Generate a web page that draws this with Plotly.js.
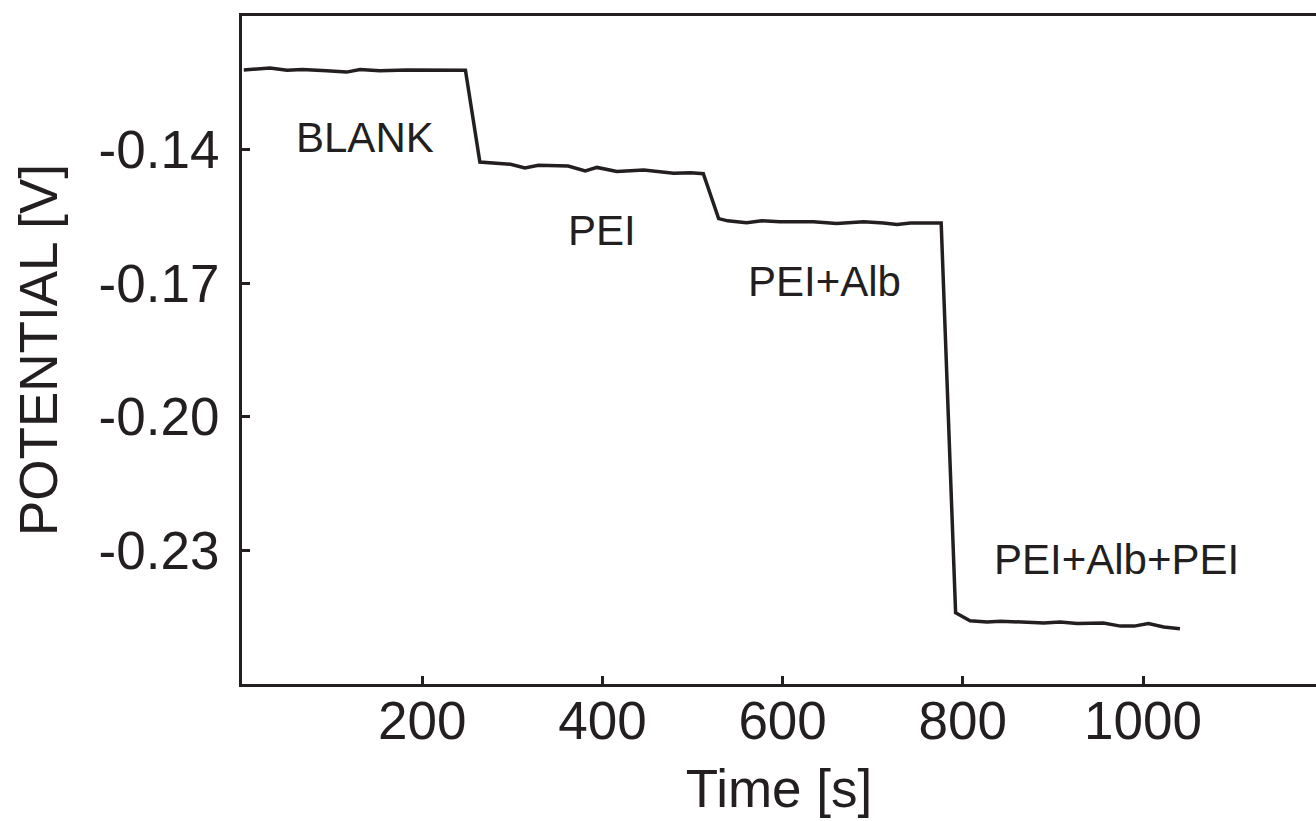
<!DOCTYPE html>
<html>
<head>
<meta charset="utf-8">
<script src="https://cdn.plot.ly/plotly-3.0.1.min.js"></script>
<style>
html,body{margin:0;padding:0;background:#fff;overflow:hidden;}
#chart{width:1316px;height:821px;}
</style>
</head>
<body>
<div id="chart"></div>
<script>
// Time [s]
var timeS = [2, 31, 50, 67, 94, 116, 131, 153, 183, 209, 248,
  264, 298, 314, 329, 362, 381, 394, 416, 446, 464, 479, 498, 512,
  529, 539, 560, 577, 597, 634, 660, 690, 712, 727, 742, 760, 776,
  792, 808, 827, 842, 890, 908, 927, 956, 975, 990, 1006, 1023, 1041];
// Potential [V]
var potentialV = [-0.1221, -0.1217, -0.1222, -0.1220, -0.1223, -0.1226, -0.1220, -0.1223, -0.1221, -0.1222, -0.1222,
  -0.1428, -0.1433, -0.1441, -0.1435, -0.1437, -0.1448, -0.1440, -0.1449, -0.1446, -0.1449, -0.1453, -0.1452, -0.1454,
  -0.1555, -0.1560, -0.1564, -0.1560, -0.1562, -0.1562, -0.1566, -0.1562, -0.1565, -0.1568, -0.1565, -0.1566, -0.1565,
  -0.2440, -0.2458, -0.2461, -0.2459, -0.2463, -0.2461, -0.2464, -0.2463, -0.2470, -0.2470, -0.2464, -0.2472, -0.2476];

var xTicks = [200, 400, 600, 800, 1000];
var yTicks = [-0.14, -0.17, -0.20, -0.23];
var yTickText = ["-0.14", "-0.17", "-0.20", "-0.23"];

var stageLabels = ["BLANK", "PEI", "PEI+Alb", "PEI+Alb+PEI"];
var stageX = [137, 399, 647, 971];
var stageY = [-0.1372, -0.1581, -0.1697, -0.2321];

var ink = "#231f20";
var fontFam = "'Liberation Sans', Arial, Helvetica, sans-serif";

var trace = {
  x: timeS, y: potentialV, type: "scatter", mode: "lines",
  line: {color: ink, width: 3.5}, hoverinfo: "skip", showlegend: false
};

var annotations = stageLabels.map(function(t, i){
  return {x: stageX[i], y: stageY[i], xref: "x", yref: "y", text: t,
    showarrow: false, xanchor: "center", yanchor: "middle",
    font: {family: fontFam, size: 42, color: ink}};
});

var layout = {
  width: 1316, height: 821,
  margin: {l: 242, r: 0, t: 16, b: 137, pad: 0},
  paper_bgcolor: "#fff", plot_bgcolor: "#fff",
  font: {family: fontFam, color: ink},
  xaxis: {
    range: [0, 1192], tickmode: "array", tickvals: xTicks,
    ticktext: xTicks.map(String),
    ticks: "inside", ticklen: 8, tickwidth: 3, tickcolor: ink,
    showline: true, linewidth: 3, linecolor: ink, mirror: true,
    showgrid: false, zeroline: false,
    tickfont: {family: fontFam, size: 53, color: ink},
    ticklabelstandoff: -12,
    title: {text: "Time [s]", font: {family: fontFam, size: 53, color: ink}, standoff: 22}
  },
  yaxis: {
    range: [-0.26, -0.11], tickmode: "array", tickvals: yTicks, ticktext: yTickText,
    ticks: "inside", ticklen: 8, tickwidth: 3, tickcolor: ink,
    showline: true, linewidth: 3, linecolor: ink, mirror: false,
    showgrid: false, zeroline: false,
    tickfont: {family: fontFam, size: 53, color: ink},
    ticklabelstandoff: 9,
    title: {text: "POTENTIAL [V]", font: {family: fontFam, size: 53, color: ink}, standoff: 25}
  },
  annotations: annotations
};

Plotly.newPlot("chart", [trace], layout, {displayModeBar: false, staticPlot: true});
</script>
</body>
</html>
